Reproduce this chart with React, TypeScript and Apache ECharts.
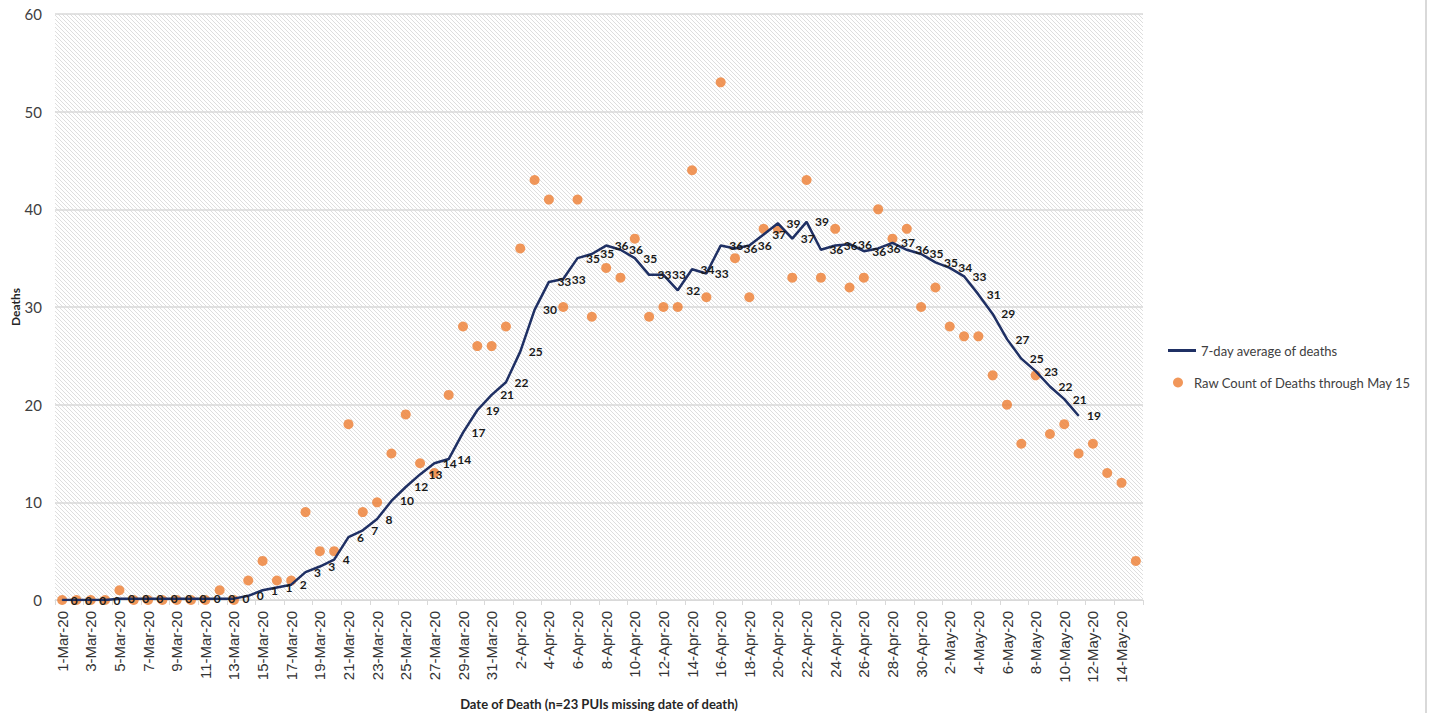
import React, { useEffect, useRef } from "react";
import * as echarts from "echarts";

const categories = [
  "1-Mar-20","2-Mar-20","3-Mar-20","4-Mar-20","5-Mar-20","6-Mar-20","7-Mar-20","8-Mar-20","9-Mar-20","10-Mar-20",
  "11-Mar-20","12-Mar-20","13-Mar-20","14-Mar-20","15-Mar-20","16-Mar-20","17-Mar-20","18-Mar-20","19-Mar-20","20-Mar-20",
  "21-Mar-20","22-Mar-20","23-Mar-20","24-Mar-20","25-Mar-20","26-Mar-20","27-Mar-20","28-Mar-20","29-Mar-20","30-Mar-20",
  "31-Mar-20","1-Apr-20","2-Apr-20","3-Apr-20","4-Apr-20","5-Apr-20","6-Apr-20","7-Apr-20","8-Apr-20","9-Apr-20",
  "10-Apr-20","11-Apr-20","12-Apr-20","13-Apr-20","14-Apr-20","15-Apr-20","16-Apr-20","17-Apr-20","18-Apr-20","19-Apr-20",
  "20-Apr-20","21-Apr-20","22-Apr-20","23-Apr-20","24-Apr-20","25-Apr-20","26-Apr-20","27-Apr-20","28-Apr-20","29-Apr-20",
  "30-Apr-20","1-May-20","2-May-20","3-May-20","4-May-20","5-May-20","6-May-20","7-May-20","8-May-20","9-May-20",
  "10-May-20","11-May-20","12-May-20","13-May-20","14-May-20","15-May-20",
];

const rawDeaths = [
  0, 0, 0, 0, 1, 0, 0, 0, 0, 0,
  0, 1, 0, 2, 4, 2, 2, 9, 5, 5,
  18, 9, 10, 15, 19, 14, 13, 21, 28, 26,
  26, 28, 36, 43, 41, 30, 41, 29, 34, 33,
  37, 29, 30, 30, 44, 31, 53, 35, 31, 38,
  38, 33, 43, 33, 38, 32, 33, 40, 37, 38,
  30, 32, 28, 27, 27, 23, 20, 16, 23, 17,
  18, 15, 16, 13, 12, 4,
];

const avgDeaths = [
  0, 0, 0, 0, 0.14, 0.14, 0.14, 0.14, 0.14, 0.14,
  0.14, 0.14, 0.14, 0.43, 1.0, 1.29, 1.57, 2.86, 3.43, 4.14,
  6.43, 7.14, 8.29, 10.14, 11.57, 12.86, 14.0, 14.43, 17.14, 19.43,
  21.0, 22.29, 25.43, 29.71, 32.57, 32.86, 35.0, 35.43, 36.29, 35.86,
  35.0, 33.29, 33.29, 31.71, 33.86, 33.43, 36.29, 36.0, 36.29, 37.43,
  38.57, 37.0, 38.71, 35.86, 36.29, 36.43, 35.71, 36.0, 36.57, 35.86,
  35.43, 34.57, 34.0, 33.14, 31.29, 29.29, 26.71, 24.71, 23.43, 21.86,
  20.57, 18.86, null, null, null, null,
];

const yTicks = { min: 0, max: 60, interval: 10 };

const LINE_NAME = "7-day average of deaths";
const DOT_NAME = "Raw Count of Deaths through May 15";

const hatchSvg =
  "data:image/svg+xml;utf8," +
  encodeURIComponent(
    '<svg xmlns="http://www.w3.org/2000/svg" width="4" height="4"><rect width="4" height="4" fill="#ffffff"/><path d="M-1,-1 L5,5 M-1,3 L1,5 M3,-1 L5,1" stroke="#dedede" stroke-width="1"/></svg>'
  );

export default function App() {
  const ref = useRef<HTMLDivElement>(null);
  useEffect(() => {
    if (!ref.current) return;
    const chart = echarts.init(ref.current, undefined, { renderer: "svg" });
    const font = "Lato, 'Open Sans', sans-serif";
    chart.setOption({
      animation: false,
      backgroundColor: "#ffffff",
      textStyle: { fontFamily: font },
      grid: {
        left: 55,
        right: 287,
        top: 14,
        bottom: 113,
        show: true,
        borderWidth: 0,
        outerBoundsMode: "none",
        containLabel: false,
        backgroundColor: {
          image: hatchSvg,
          repeat: "repeat",
          imageWidth: 4,
          imageHeight: 4,
        } as any,
      } as any,
      legend: [
        {
          data: [LINE_NAME],
          orient: "vertical",
          left: 1163,
          top: 339,
          icon: "rect",
          itemWidth: 28,
          itemHeight: 3,
          textStyle: { fontFamily: font, fontSize: 13, color: "#404040" },
        },
        {
          data: [DOT_NAME],
          orient: "vertical",
          left: 1168,
          top: 371,
          icon: "circle",
          itemWidth: 22,
          itemHeight: 10,
          textStyle: { fontFamily: font, fontSize: 13, color: "#404040" },
        },
      ],
      xAxis: {
        type: "category",
        data: categories,
        boundaryGap: true,
        name: "Date of Death (n=23 PUIs missing date of death)",
        nameLocation: "middle",
        nameGap: 97,
        nameMoveOverlap: false,
        nameTextStyle: { fontFamily: font, fontSize: 13, fontWeight: "bold", color: "#262626" },
        axisLine: { lineStyle: { color: "#d9d9d9", width: 1 } },
        axisTick: { show: true, interval: 1, length: 5, lineStyle: { color: "#d9d9d9" } },
        axisLabel: {
          interval: 1,
          rotate: 90,
          margin: 11,
          fontFamily: "'Liberation Sans', Arial, sans-serif",
          fontSize: 15,
          color: "#333333",
        },
        splitLine: { show: false },
      },
      yAxis: {
        type: "value",
        min: yTicks.min,
        max: yTicks.max,
        interval: yTicks.interval,
        name: "Deaths",
        nameLocation: "middle",
        nameGap: 34,
        nameMoveOverlap: false,
        nameTextStyle: { fontFamily: font, fontSize: 12, fontWeight: "bold", color: "#262626" },
        axisLine: { show: false },
        axisTick: { show: false },
        axisLabel: { margin: 13, fontFamily: font, fontSize: 15, color: "#404040" },
        splitLine: { lineStyle: { color: "#d9d9d9", width: 1.5 } },
      },
      series: [
        {
          name: DOT_NAME,
          type: "scatter",
          data: rawDeaths,
          symbol: "circle",
          symbolSize: 10,
          itemStyle: { color: "#ed7d31" },
          z: 2,
        },
        {
          name: LINE_NAME,
          type: "line",
          data: avgDeaths,
          symbol: "circle",
          symbolSize: 1,
          showSymbol: true,
          itemStyle: { color: "#1f3064" },
          lineStyle: { color: "#1f3064", width: 2.5 },
          connectNulls: false,
          label: {
            show: true,
            position: "right",
            distance: 8,
            fontFamily: font,
            fontSize: 12,
            fontWeight: "bold",
            color: "#1a1a1a",
            formatter: (p: any) => String(Math.round(p.value)),
          },
          z: 4,
        },
      ],
      graphic: [
        {
          type: "line",
          shape: { x1: 1426, y1: 0, x2: 1426, y2: 713 },
          style: { stroke: "#d9d9d9", lineWidth: 2 },
        },
      ],
    });
    return () => chart.dispose();
  }, []);
  return (
    <div
      ref={ref}
      style={{ position: "fixed", left: 0, top: 0, width: 1430, height: 713 }}
    />
  );
}
